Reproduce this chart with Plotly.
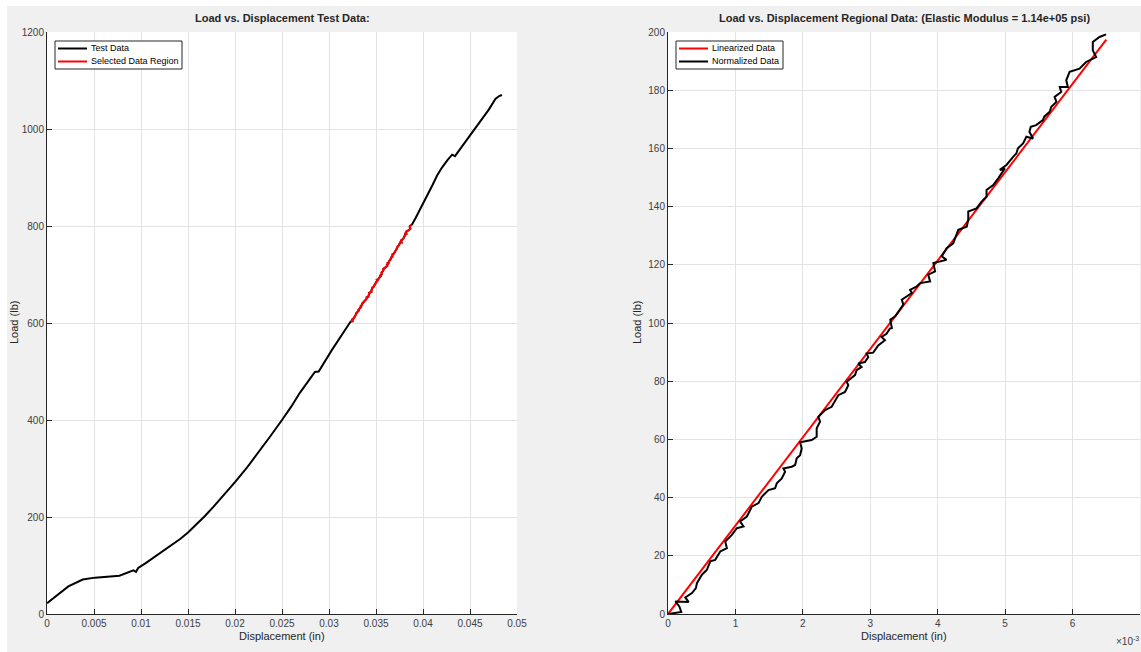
import plotly.graph_objects as go

# ---------------- data ----------------
# Left panel: full test data (displacement in, load lb), before and after selected region
pre_x = [0.0, 0.00227, 0.0038, 0.0051, 0.0077, 0.0092, 0.00947, 0.0097, 0.0105, 0.0117,
         0.0130, 0.0142, 0.0150, 0.0159, 0.0168, 0.0177, 0.0188, 0.0200, 0.0212, 0.0225,
         0.0237, 0.0250, 0.0260, 0.0269, 0.0285, 0.0289, 0.0303, 0.0323]
pre_y = [22, 57, 71, 75, 79, 90, 87, 95, 105, 121,
         138.5, 155, 168, 184, 202, 221, 245, 272, 300, 333,
         365, 400, 428, 456, 499, 500, 544, 603]
post_x = [0.0388, 0.0392, 0.0400, 0.0405, 0.0410, 0.0415, 0.0420, 0.0426, 0.0431, 0.0434,
          0.0437, 0.0450, 0.0460, 0.0470, 0.0477, 0.0481, 0.0484]
post_y = [802, 816, 845, 864, 884, 904, 920, 936, 947, 944,
          952, 985, 1012, 1040, 1062, 1068, 1070]

# Region offset (start of the selected region in the test data)
region_x0 = 0.0323
region_y0 = 603

# Right panel: normalized regional data (displacement in 1e-3 in, load lb)
norm_x = [0.0, 0.197, 0.168, 0.109, 0.306, 0.257, 0.355, 0.414, 0.429, 0.503,
          0.577, 0.627, 0.70, 0.775, 0.873, 0.849, 0.947, 1.021, 1.12, 1.07,
          1.17, 1.243, 1.342, 1.391, 1.49, 1.589, 1.613, 1.687, 1.737, 1.712,
          1.835, 1.885, 1.909, 1.959, 1.983, 1.959, 2.13, 2.205, 2.205, 2.255,
          2.23, 2.33, 2.427, 2.5, 2.526, 2.625, 2.674, 2.65, 2.773, 2.797,
          2.871, 2.822, 2.92, 2.97, 2.945, 3.044, 3.118, 3.217, 3.167, 3.241,
          3.29, 3.32, 3.296, 3.37, 3.42, 3.49, 3.468, 3.54, 3.616, 3.59,
          3.69, 3.74, 3.887, 3.86, 3.96, 3.936, 4.13, 4.06, 4.133, 4.23,
          4.305, 4.43, 4.453, 4.453, 4.576, 4.65, 4.724, 4.724, 4.823, 4.897,
          4.995, 4.92, 5.02, 5.118, 5.167, 5.19, 5.266, 5.315, 5.414, 5.36,
          5.38, 5.46, 5.56, 5.58, 5.66, 5.685, 5.76, 5.734, 5.832, 5.81,
          5.93, 5.906, 5.956, 6.103, 6.2, 6.35, 6.3, 6.3, 6.4, 6.497]
norm_y = [0.0, 0.7, 2.6, 4.3, 4.1, 5.7, 7.2, 8.9, 10.6, 13.5,
          15.2, 18.1, 18.6, 21.5, 22.6, 24.9, 27.2, 29.5, 30.1, 31.8,
          33.5, 36.9, 38.1, 40.3, 42.6, 43.2, 44.9, 46.6, 48.9, 50.0,
          50.6, 51.2, 53.5, 54.6, 56.9, 59.0, 59.8, 60.9, 63.8, 66.1,
          67.8, 70.1, 71.2, 74.1, 75.2, 76.3, 78.6, 79.8, 82.1, 83.8,
          84.9, 86.1, 86.6, 88.3, 89.5, 89.8, 92.3, 94.1, 95.2, 96.3,
          98.1, 98.3, 101.1, 102.3, 104.0, 106.3, 108.0, 109.1, 110.3, 111.4,
          112.6, 113.7, 114.3, 116.6, 117.7, 120.6, 121.7, 122.9, 125.7, 127.4,
          132.0, 133.1, 135.4, 138.3, 139.4, 141.7, 143.4, 145.7, 147.4, 149.7,
          153.1, 152.6, 154.3, 157.1, 158.3, 160.0, 161.7, 164.0, 163.4, 165.7,
          167.4, 168.0, 169.7, 170.9, 172.6, 174.3, 176.0, 177.7, 179.4, 181.1,
          181.1, 183.4, 186.3, 187.4, 189.7, 191.4, 193.7, 196.6, 198.3, 199.2]

# Linear fit (1e-3 in, lb)
lin_x = [0.0, 6.5]
lin_y = [0.0, 197.4]

# Selected region in test-data coordinates
sel_x = [region_x0 + v / 1000.0 for v in norm_x]
sel_y = [region_y0 + v for v in norm_y]
test_x = pre_x + sel_x[1:] + post_x
test_y = pre_y + sel_y[1:] + post_y

left_xticks = [0, 0.005, 0.01, 0.015, 0.02, 0.025, 0.03, 0.035, 0.04, 0.045, 0.05]
left_xticklabels = ["0", "0.005", "0.01", "0.015", "0.02", "0.025", "0.03", "0.035", "0.04", "0.045", "0.05"]
left_yticks = [0, 200, 400, 600, 800, 1000, 1200]
right_xticks = [0, 1, 2, 3, 4, 5, 6, 7]
right_yticks = list(range(0, 201, 20))

left_legend = [("Test Data", "black"), ("Selected Data Region", "red")]
right_legend = [("Linearized Data", "red"), ("Normalized Data", "black")]

# ---------------- figure ----------------
W, H = 1141, 652
def px(x):
    return x / W
def py(y):
    return 1 - y / H

AX = "#262626"
GRID = "#e3e3e3"
FONT = "Liberation Sans, Arial, sans-serif"

fig = go.Figure()
fig.add_trace(go.Scatter(x=test_x, y=test_y, mode="lines", name=left_legend[0][0],
                         line=dict(color="black", width=2), xaxis="x", yaxis="y"))
fig.add_trace(go.Scatter(x=sel_x, y=sel_y, mode="lines", name=left_legend[1][0],
                         line=dict(color="red", width=2), xaxis="x", yaxis="y"))
fig.add_trace(go.Scatter(x=lin_x, y=lin_y, mode="lines", name=right_legend[0][0],
                         line=dict(color="red", width=2), xaxis="x2", yaxis="y2"))
fig.add_trace(go.Scatter(x=norm_x, y=norm_y, mode="lines", name=right_legend[1][0],
                         line=dict(color="black", width=2), xaxis="x2", yaxis="y2"))

axcommon = dict(showline=True, linecolor=AX, linewidth=1, ticks="inside", ticklen=5,
                tickcolor=AX, tickwidth=1, showgrid=True, gridcolor=GRID, gridwidth=1,
                zeroline=False, tickfont=dict(family=FONT, size=10, color="#404040"),
                mirror=False, automargin=False)

fig.update_layout(
    width=W, height=H, autosize=False,
    margin=dict(l=0, r=0, t=0, b=0, pad=0, autoexpand=False),
    paper_bgcolor="#f0f0f0", plot_bgcolor="white",
    font=dict(family=FONT, size=10, color="#262626"),
    showlegend=False,
    xaxis=dict(domain=[px(47), px(517)], range=[0, 0.05], tickvals=left_xticks,
               ticktext=left_xticklabels, anchor="y", **axcommon),
    yaxis=dict(domain=[py(614), py(32)], range=[0, 1200], tickvals=left_yticks,
               anchor="x", **axcommon),
    xaxis2=dict(domain=[px(668), px(1140)], range=[0, 7], tickvals=right_xticks,
                anchor="y2", **axcommon),
    yaxis2=dict(domain=[py(614), py(32)], range=[0, 200], tickvals=right_yticks,
                anchor="x2", **axcommon),
)

shapes = [
    dict(type="rect", xref="paper", yref="paper", x0=0, x1=1, y0=py(6), y1=1,
         fillcolor="white", line=dict(width=0), layer="below"),
    dict(type="rect", xref="paper", yref="paper", x0=0, x1=px(7), y0=0, y1=1,
         fillcolor="white", line=dict(width=0), layer="below"),
]
annotations = []

def add_legend(x0, x1, y0, y1, items):
    shapes.append(dict(type="rect", xref="paper", yref="paper", x0=px(x0), x1=px(x1),
                       y0=py(y1), y1=py(y0), fillcolor="white",
                       line=dict(color="#262626", width=1), layer="above"))
    rows = [y0 + 7.5, y0 + 20.5]
    for (name, color), ry in zip(items, rows):
        shapes.append(dict(type="line", xref="paper", yref="paper", x0=px(x0 + 3), x1=px(x0 + 32),
                           y0=py(ry), y1=py(ry), line=dict(color=color, width=2), layer="above"))
        annotations.append(dict(text=name, xref="paper", yref="paper", x=px(x0 + 34), y=py(ry),
                                xanchor="left", yanchor="middle", showarrow=False,
                                font=dict(family=FONT, size=9, color="black")))

add_legend(55, 182, 41, 69, left_legend)
add_legend(676, 783, 41, 69, right_legend)
fig.update_layout(shapes=shapes)

ann = [
    dict(text="<b>Load vs. Displacement Test Data:</b>", x=px(282), y=py(18)),
    dict(text="<b>Load vs. Displacement Regional Data: (Elastic Modulus = 1.14e+05 psi)</b>",
         x=px(904), y=py(18)),
    dict(text="Displacement (in)", x=px(282), y=py(636)),
    dict(text="Displacement (in)", x=px(904), y=py(636)),
    dict(text="Load (lb)", x=px(14), y=py(323), textangle=-90),
    dict(text="Load (lb)", x=px(637), y=py(323), textangle=-90),
]
for a in ann:
    d = dict(xref="paper", yref="paper", showarrow=False, xanchor="center", yanchor="middle",
             font=dict(family=FONT, size=11, color="#262626"))
    d.update(a)
    annotations.append(d)
annotations.append(dict(text="×10<sup>-3</sup>", xref="paper", yref="paper", x=px(1141),
                        y=py(641), xanchor="right", yanchor="middle", showarrow=False,
                        font=dict(family=FONT, size=10, color="#404040")))
fig.update_layout(annotations=annotations)

fig.write_html("out.html", config={"displayModeBar": False},
               post_script="document.body.style.margin='0';document.body.style.overflow='hidden';")
